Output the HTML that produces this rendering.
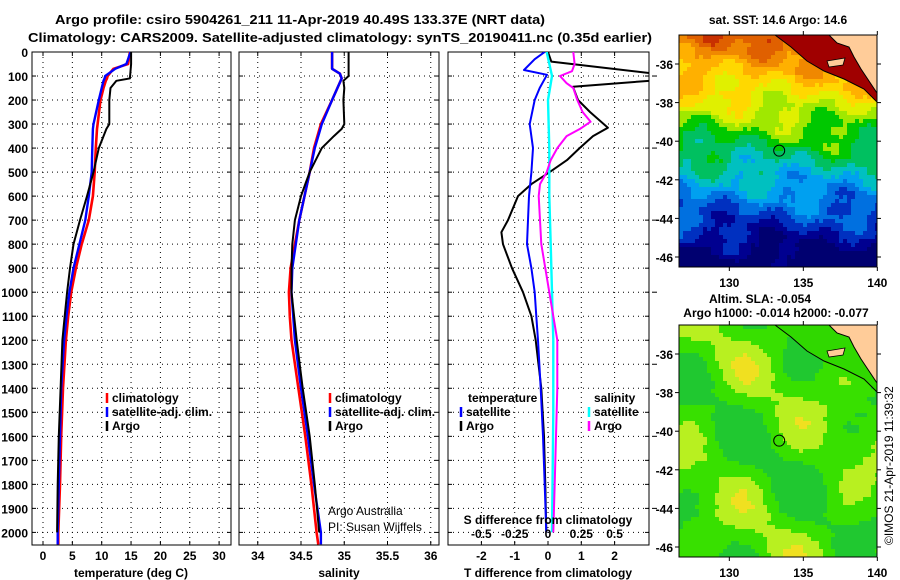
<!DOCTYPE html>
<html><head><meta charset="utf-8">
<style>
html,body{margin:0;padding:0;background:#fff;}
svg{display:block;font-family:"Liberation Sans",sans-serif;}
.t{font-weight:bold;font-size:13px;fill:#000;}
.tk{font-weight:bold;font-size:12px;fill:#000;}
.lg{font-weight:bold;font-size:12px;fill:#000;}
</style></head>
<body>
<svg id="chart" width="900" height="580" viewBox="0 0 900 580">
<text class="t" x="55" y="24" textLength="490" lengthAdjust="spacingAndGlyphs">Argo profile: csiro 5904261_211 11-Apr-2019 40.49S 133.37E (NRT data)</text>
<text class="t" x="28" y="42" textLength="624" lengthAdjust="spacingAndGlyphs">Climatology: CARS2009. Satellite-adjusted climatology: synTS_20190411.nc (0.35d earlier)</text>
<g id="panels"></g>
<g id="maps"></g>
</svg>
<script>
// ---------- data ----------
const tDepths = [0,50,70,100,110,120,150,200,300,320,400,500,600,700,800,900,1000,1100,1200,1400,1600,1800,2000,2050];
const tempClim = [14.8,14.5,12,11,10.9,10.7,10.3,9.8,9.3,9.2,9.0,8.8,8.5,7.8,6.6,5.6,4.8,4.3,3.9,3.4,3.1,2.9,2.6,2.6];
const tempSat  = [14.9,14.2,12.3,10.6,10.5,10.3,10,9.5,8.6,8.5,8.4,8.3,7.8,7.2,6.2,5.2,4.5,4.0,3.6,3.1,2.9,2.7,2.5,2.5];
const tDepthsArgo = [0,50,110,120,150,200,300,320,400,500,600,700,800,900,1000,1100,1200,1400,1600,1800,2000];
const tempArgo = [15,15,14.8,12.5,11.5,11.3,11.3,10.8,9.5,8.6,7.5,6.3,5.2,4.6,4.1,3.7,3.3,3.0,2.7,2.5,2.4];

const sDepths = [0,70,90,110,200,300,400,500,600,700,800,900,1000,1100,1200,1400,1600,1800,2000,2050];
const salClim = [34.86,34.86,34.95,34.97,34.86,34.73,34.65,34.6,34.54,34.48,34.43,34.38,34.36,34.37,34.39,34.47,34.55,34.62,34.68,34.70];
const salSat  = [34.86,34.86,34.95,34.97,34.86,34.74,34.66,34.6,34.54,34.48,34.44,34.4,34.39,34.41,34.43,34.5,34.58,34.65,34.73,34.73];
const sDepthsArgo = [0,100,120,150,200,300,320,350,400,450,500,550,600,700,800,900,1000,1100,1200,1400,1600,1800,2000];
const salArgo = [35.05,35.05,34.99,35.0,34.99,35.0,34.97,34.88,34.74,34.67,34.6,34.55,34.5,34.43,34.4,34.39,34.39,34.42,34.45,34.52,34.6,34.66,34.71];

const dDepthsT = [0,40,95,115,145,200,250,315,350,400,450,500,550,600,700,750,800,900,1000,1100,1200,1400,1600,1800,2000];
const dTempArgo = [0,0.1,3.5,3.5,0.75,0.9,1.26,1.8,1.35,0.95,0.57,0.05,-0.5,-0.9,-1.2,-1.4,-1.35,-1.08,-0.75,-0.5,-0.37,-0.2,-0.12,-0.08,-0.05];
const dDepthsTS = [0,30,75,95,150,200,300,400,500,600,700,800,900,1000,1100,1200,1400,1600,1800,2000];
const dTempSat = [-0.1,-0.4,-0.72,-0.03,-0.25,-0.4,-0.55,-0.45,-0.5,-0.57,-0.6,-0.63,-0.5,-0.4,-0.35,-0.3,-0.22,-0.15,-0.1,-0.05];
const dDepthsS = [0,50,80,100,130,150,200,250,290,320,350,400,450,500,550,600,700,800,900,1000,1100,1200,1400,1600,1800,2000];
const dSalArgo = [0.19,0.2,0.18,0.09,0.14,0.19,0.22,0.26,0.32,0.24,0.14,0.07,0.02,-0.01,-0.06,-0.07,-0.06,-0.05,-0.02,0.01,0.04,0.07,0.07,0.06,0.05,0.04];
const dDepthsSS = [0,100,200,400,600,800,1000,1200,1500,2000];
const dSalSat = [-0.01,0.03,0.0,0.01,0.01,0.02,0.03,0.04,0.04,0.03];

const depthTicks = [0,100,200,300,400,500,600,700,800,900,1000,1100,1200,1300,1400,1500,1600,1700,1800,1900,2000];
const tempTicks = [0,5,10,15,20,25,30];
const salTicks = [34,34.5,35,35.5,36];
const dtTicks = [-2,-1,0,1,2];
const dsTicks = [-0.5,-0.25,0,0.25,0.5];
const dsTickLabels = ["-0.5","-0.25","0","0.25","0.5"];

// ---------- helpers ----------
const NS="http://www.w3.org/2000/svg";
const root=document.getElementById('panels');
function mk(tag,attrs,parent){const e=document.createElementNS(NS,tag);for(const k in attrs)e.setAttribute(k,attrs[k]);(parent||root).appendChild(e);return e;}
const Y0=52, Y1=545;
const yD = d => Y0 + d*0.2402;

function panel(name,x0,x1,xs,ticks,labels){
  const g=mk('g',{});
  
  
  ticks.forEach(v=>{const x=xs(v);
    const l=mk('line',{x1:x,x2:x,y1:Y0,y2:Y1,stroke:'#000','stroke-width':1,'stroke-dasharray':'1,4'},g);
    
    
    mk('line',{x1:x,x2:x,y1:Y0,y2:Y0+4,stroke:'#000'},g);
    mk('line',{x1:x,x2:x,y1:Y1,y2:Y1-4,stroke:'#000'},g);
  });
  depthTicks.forEach(d=>{const y=yD(d);
    if(d>0){const l=mk('line',{x1:x0,x2:x1,y1:y,y2:y,stroke:'#000','stroke-width':1,'stroke-dasharray':'1,4'},g);
    
    }
    mk('line',{x1:x0,x2:x0+4,y1:y,y2:y,stroke:'#000'},g);
    mk('line',{x1:x1,x2:x1-4,y1:y,y2:y,stroke:'#000'},g);
  });
  if(labels){ticks.forEach((v,i)=>{const t=mk('text',{x:xs(v),y:560,'text-anchor':'middle',class:'tk'},g);t.textContent=labels[i];
    
    });}
  const r=mk('rect',{x:x0,y:Y0,width:x1-x0,height:Y1-Y0,fill:'none',stroke:'#000','stroke-width':1},g);
  
  
  return g;
}
function series(g,name,depths,vals,xs,color,w){
  const pts=depths.map((d,i)=>xs(vals[i]).toFixed(1)+','+yD(d).toFixed(1)).join(' ');
  const p=mk('polyline',{points:pts,fill:'none',stroke:color,'stroke-width':w||2.2,'stroke-linejoin':'round'},g);
  
  
}
function txt(g,name,x,y,s,cls,anchor){const t=mk('text',{x:x,y:y,class:cls||'lg','text-anchor':anchor||'start'},g);t.textContent=s;
  
  return t;}
function legend(g,name,x,y,color,label){
  const m=mk('line',{x1:x,x2:x,y1:y-9,y2:y+1,stroke:color,'stroke-width':2.5},g);
  
  
  txt(g,name,x+5,y,label);
}

depthTicks.forEach(d=>{const t=mk('text',{x:28,y:yD(d)+5,'text-anchor':'end',class:'tk'});t.textContent=d;
  
  });

// panel 1 temperature
const xT = v => 43 + v*5.87;
const g1=panel('temperature-panel',32,231,xT,tempTicks,tempTicks.map(String));
series(g1,'temp-climatology-line',tDepths,tempClim,xT,'#ff0000',2.6);
series(g1,'temp-satellite-line',tDepths,tempSat,xT,'#0000ff',2.4);
series(g1,'temp-argo-line',tDepthsArgo,tempArgo,xT,'#000',2);
legend(g1,'legend-climatology',107,402,'#ff0000','climatology');
legend(g1,'legend-satellite-adj',107,416,'#0000ff','satellite-adj. clim.');
legend(g1,'legend-argo',107,430,'#000','Argo');
txt(g1,'x-axis-title-temperature',131,577,'temperature (deg C)','tk','middle');

// panel 2 salinity
const xS = v => 301 + (v-34.5)*86.5;
const g2=panel('salinity-panel',239,439,xS,salTicks,salTicks.map(String));
series(g2,'sal-climatology-line',sDepths,salClim,xS,'#ff0000',2.6);
series(g2,'sal-satellite-line',sDepths,salSat,xS,'#0000ff',2.4);
series(g2,'sal-argo-line',sDepthsArgo,salArgo,xS,'#000',2);
legend(g2,'legend-climatology-sal',330,402,'#ff0000','climatology');
legend(g2,'legend-satellite-adj-sal',330,416,'#0000ff','satellite-adj. clim.');
legend(g2,'legend-argo-sal',330,430,'#000','Argo');
const c1=txt(g2,'credit-argo-australia',328,515,'Argo Australia','tk');c1.style.fontWeight='normal';
const c2=txt(g2,'credit-pi',328,531,'PI: Susan Wijffels','tk');c2.style.fontWeight='normal';
txt(g2,'x-axis-title-salinity',339,577,'salinity','tk','middle');

// panel 3 differences
const xDT = v => 548 + v*33.3;
const xDS = v => 548 + v*133.2;
const g3=panel('difference-panel',448,649,xDT,dtTicks,dtTicks.map(String));
const cp=mk('clipPath',{id:'clip3'},g3);mk('rect',{x:448,y:Y0,width:201,height:Y1-Y0},cp);
const gs=mk('g',{'clip-path':'url(#clip3)'},g3);


series(gs,'dtemp-argo-line',dDepthsT,dTempArgo,xDT,'#000',2);
series(gs,'dtemp-satellite-line',dDepthsTS,dTempSat,xDT,'#0000ff',2);
series(gs,'dsal-satellite-line',dDepthsSS,dSalSat,xDS,'#00ffff',2.4);
series(gs,'dsal-argo-line',dDepthsS,dSalArgo,xDS,'#ff00ff',2);
depthTicks.forEach((d,i)=>{if(i%3==1){const y=yD(d);mk('line',{x1:652,x2:657,y1:y,y2:y,stroke:'#000'},g3);}});
txt(g3,'legend-temperature-heading',468,402,'temperature');
legend(g3,'legend-dtemp-satellite',461,416,'#0000ff','satellite');
legend(g3,'legend-dtemp-argo',461,430,'#000','Argo');
txt(g3,'legend-salinity-heading',594,402,'salinity');
legend(g3,'legend-dsal-satellite',589,416,'#00ffff','satellite');
legend(g3,'legend-dsal-argo',589,430,'#ff00ff','Argo');
txt(g3,'s-axis-title',548,524,'S difference from climatology','tk','middle');
dsTicks.forEach((v,i)=>{txt(g3,'s-tick-label',xDS(v),538,dsTickLabels[i],'tk','middle');});
txt(g3,'x-axis-title-tdiff',548,577,'T difference from climatology','tk','middle');

// ---------- maps ----------
const mg=document.getElementById('maps');
function mapBox(name,y0,y1,kind){
  const g=mk('g',{},mg);
  
  
  const X0=679,X1=877, cs=4;
  const latY = lat => y0 + 29 + (-36-lat)*19.3;
  const cols=['#a00000','#c83000','#e06000','#f08800','#ffb000','#ffd800','#e0f000','#a0e800','#00c800','#00c060','#00c0c0','#00a0f0','#0070e0','#0030c0','#000090','#000070'];
  for(let y=y0;y<y1;y+=cs){for(let x=X0;x<X1;x+=cs){
    const n=Math.sin(x*0.11+y*0.05)*1.1+Math.sin(x*0.037-y*0.09)*1.3+Math.sin((x*7+y*13)%17)*0.5;
    let c;
    if(kind==='sst'){
      const fr=(y-y0)/(y1-y0);
      let f=2.2+fr*13.5+n*0.55;
      f=Math.max(0,Math.min(15,Math.round(f)));c=cols[f];
    } else {
      const b=Math.sin(x*0.06+1)*Math.sin(y*0.05+2)+Math.sin(x*0.03-y*0.04)*0.6+Math.sin((x*5+y*11)%13)*0.08;
      c=b>1.25?'#f0e020':b>0.45?'#b8f020':b>-0.4?'#38e000':'#20c830';
    }
    mk('rect',{x:x,y:y,width:Math.min(cs,X1-x),height:Math.min(cs,y1-y),fill:c},g);
  }}
  mk('path',{d:`M${X0+96},${y0} L${X0+112},${y0+12} L${X0+128},${y0+26} L${X0+145},${y0+36} L${X0+165},${y0+44} L${X0+185},${y0+54} L${X1},${y0+67} L${X1},${y0} Z`,fill:kind==='sst'?'#a00000':'#30d800'},g);
  const land2=mk('path',{d:`M${X0+150},${y0} L${X0+158},${y0+8} L${X0+170},${y0+12} L${X0+175},${y0+22} L${X0+182},${y0+34} L${X0+190},${y0+46} L${X1},${y0+58} L${X1},${y0} Z`,fill:'#ffcc99',stroke:'#000','stroke-width':1},g);
  
  
  mk('path',{d:`M${X0+148},${y0+26} L${X0+166},${y0+23} L${X0+164},${y0+30} L${X0+150},${y0+32} Z`,fill:'#ffcc99',stroke:'#000','stroke-width':0.8},g);
  mk('polyline',{points:`${X0+96},${y0} ${X0+112},${y0+12} ${X0+128},${y0+26} ${X0+145},${y0+36} ${X0+165},${y0+44} ${X0+185},${y0+54} ${X1},${y0+67}`,fill:'none',stroke:'#000','stroke-width':1},g);
  const c=mk('circle',{cx:679+(133.37-126.6)*14.8,cy:latY(-40.49),r:5.5,fill:'none',stroke:'#000','stroke-width':1},g);
  
  
  mk('rect',{x:X0,y:y0,width:X1-X0,height:y1-y0,fill:'none',stroke:'#000'},g);
  [-36,-38,-40,-42,-44,-46].forEach(lat=>{const y=latY(lat);
    mk('line',{x1:X0-4,x2:X0,y1:y,y2:y,stroke:'#000'},g);mk('line',{x1:X1,x2:X1+4,y1:y,y2:y,stroke:'#000'},g);
    txt(g,'lat-tick-label',X0-6,y+5,String(lat),'tk','end');});
  [130,135,140].forEach(lon=>{const x=679+(lon-126.6)*14.8;
    mk('line',{x1:x,x2:x,y1:y0-4,y2:y0,stroke:'#000'},g);mk('line',{x1:x,x2:x,y1:y1,y2:y1+4,stroke:'#000'},g);
    txt(g,'lon-tick-label',x,y1+20,String(lon),'tk','middle');});
}
mapBox('sst-map',35,267,'sst');
mapBox('sla-map',325,557,'sla');
const mt=[['sst-map-title',778,24,'sat. SST: 14.6 Argo: 14.6'],['sla-map-title',760,303,'Altim. SLA: -0.054'],['sla-map-subtitle',776,317,'Argo h1000: -0.014 h2000: -0.077']];
mt.forEach(a=>{const t=mk('text',{x:a[1],y:a[2],'text-anchor':'middle',class:'tk'},mg);t.textContent=a[3];
  
  });
const im=mk('text',{x:0,y:0,transform:'translate(893,545) rotate(-90)',class:'tk'},mg);
im.style.fontWeight='normal';im.textContent='©IMOS 21-Apr-2019 11:39:32';


</script>
</body></html>
